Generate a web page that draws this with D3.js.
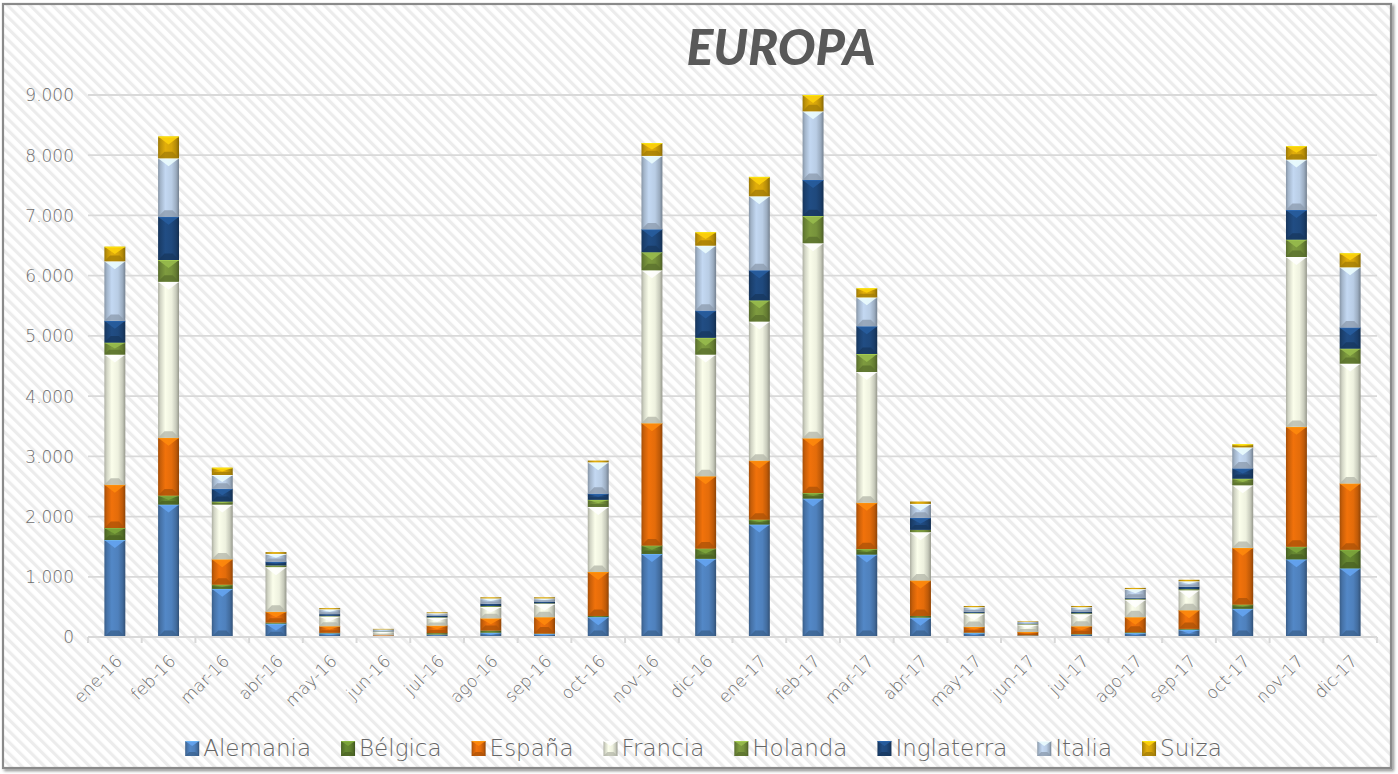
<!DOCTYPE html>
<html><head><meta charset="utf-8">
<script src="https://cdn.jsdelivr.net/npm/d3@7"></script>
<style>html,body{margin:0;padding:0;background:#fff;overflow:hidden}</style>
</head><body>
<svg id="chart" width="1398" height="774"></svg>
<script>
// ---------- DATA ----------
const months = ["ene-16","feb-16","mar-16","abr-16","may-16","jun-16","jul-16","ago-16","sep-16","oct-16","nov-16","dic-16",
                "ene-17","feb-17","mar-17","abr-17","may-17","jun-17","jul-17","ago-17","sep-17","oct-17","nov-17","dic-17"];
const seriesNames = ["Alemania","Bélgica","España","Francia","Holanda","Inglaterra","Italia","Suiza"];
const alemania   = [1610,2200, 800,220, 60,10, 40, 70, 50, 330,1380,1300,1870,2300,1370,320, 65, 25, 40, 65,120, 470,1290,1140];
const belgica    = [ 200, 150,  70, 20, 10, 5, 25, 40, 10,  20, 140, 170,  80,  90,  90, 30, 10,  5, 10, 15, 15,  70, 210, 310];
const espana     = [ 720, 960, 420,180,110,15,125,200,270, 730,2030,1200, 980, 910, 770,590, 95, 55,130,250,310, 940,1990,1100];
const francia    = [2160,2590, 910,740,160,60,130,190,220,1080,2540,2020,2310,3240,2170,800,220,120,200,290,330,1040,2820,1990];
const holanda    = [ 200, 360,  50, 30, 10, 5, 10, 15, 10, 120, 300, 280, 350, 450, 300, 40, 10, 10, 15, 15, 20, 110, 290, 250];
const inglaterra = [ 360, 720, 210, 60, 30, 5, 20, 40, 30, 100, 380, 450, 500, 600, 460,200, 20, 10, 20, 20, 40, 170, 490, 350];
const italia     = [ 990, 970, 230,130, 80,25, 45, 85, 50, 520,1220,1080,1230,1140, 480,230, 75, 25, 80,140, 90, 350, 840,1000];
const suiza      = [ 240, 360, 120, 30, 20,10, 15, 20, 20,  30, 210, 220, 320, 270, 150, 40, 20, 10, 20, 20, 25,  50, 220, 230];
const yTickValues = [0,1000,2000,3000,4000,5000,6000,7000,8000,9000];
const titleText = "EUROPA";

const seriesValues = [alemania, belgica, espana, francia, holanda, inglaterra, italia, suiza];
const seriesColors = ["#4F81BD","#62822F","#E46C0A","#EEF1DF","#77933C","#1F497D","#B9CDE5","#D6A50A"];

// table for stacking
const table = months.map((m,i)=>{
  const row = {month:m};
  seriesNames.forEach((s,j)=>row[s]=seriesValues[j][i]);
  return row;
});

// ---------- LAYOUT ----------
const W = 1398, H = 774;
const plot = {left:88, right:1377, top:95, bottom:637};
const labelFont = "'DejaVu Sans', Lato, sans-serif";
const svg = d3.select("#chart");
const defs = svg.append("defs");

// striped background pattern
const pat = defs.append("pattern").attr("id","stripes").attr("patternUnits","userSpaceOnUse")
  .attr("width",8).attr("height",8).attr("patternTransform","rotate(-45)");
pat.append("rect").attr("width",8).attr("height",8).attr("fill","#ffffff");
pat.append("rect").attr("x",0).attr("width",3.2).attr("height",8).attr("fill","#ececec");

// border shadow
const shadow = defs.append("filter").attr("id","shadow").attr("x","-2%").attr("y","-2%").attr("width","104%").attr("height","104%");
shadow.append("feGaussianBlur").attr("in","SourceAlpha").attr("stdDeviation",1.5);
shadow.append("feOffset").attr("dx",2).attr("dy",2).attr("result","ob");
shadow.append("feComponentTransfer").append("feFuncA").attr("type","linear").attr("slope",0.45);
const fm = shadow.append("feMerge"); fm.append("feMergeNode"); fm.append("feMergeNode").attr("in","SourceGraphic");

svg.append("rect").attr("x",0).attr("y",0).attr("width",W).attr("height",H).attr("fill","#ffffff");
svg.append("rect").attr("x",3).attr("y",4).attr("width",1388).attr("height",764)
  .attr("fill","url(#stripes)").attr("stroke","#8a8a8a").attr("stroke-width",2.2).attr("filter","url(#shadow)");

// gradients per series (horizontal bevel shading)
seriesColors.forEach((c,i)=>{
  const base = d3.color(c);
  const g = defs.append("linearGradient").attr("id","grad"+i).attr("x1","0").attr("x2","1").attr("y1","0").attr("y2","0");
  g.append("stop").attr("offset","0%").attr("stop-color",base.darker(0.9));
  g.append("stop").attr("offset","12%").attr("stop-color",base.darker(0.35));
  g.append("stop").attr("offset","35%").attr("stop-color",base.brighter(0.15));
  g.append("stop").attr("offset","65%").attr("stop-color",base);
  g.append("stop").attr("offset","86%").attr("stop-color",base.darker(0.5));
  g.append("stop").attr("offset","100%").attr("stop-color",base.darker(1.3));
});

// ---------- SCALES ----------
const x = d3.scaleBand().domain(months).range([plot.left, plot.right]).paddingInner(0.61).paddingOuter(0.305);
const y = d3.scaleLinear().domain([0, 9000]).range([plot.bottom, plot.top]);
const fmtLocale = d3.formatLocale({decimal:",", thousands:".", grouping:[3], currency:["","€"]});
const fmt = fmtLocale.format(",d");

// gridlines
svg.append("g").selectAll("line").data(yTickValues.filter(v=>v>0)).join("line")
  .attr("x1",plot.left).attr("x2",plot.right).attr("y1",d=>y(d)).attr("y2",d=>y(d))
  .attr("stroke","#d9d9d9").attr("stroke-width",1.8);

// y axis labels
const yAxis = d3.axisLeft(y).tickValues(yTickValues).tickFormat(fmt).tickSize(0).tickPadding(0);
const yg = svg.append("g").attr("transform",`translate(${plot.left-14},0)`).call(yAxis);
yg.select(".domain").remove();
yg.selectAll("text").attr("font-family",labelFont).attr("font-weight",200).attr("font-size",17)
  .attr("fill","#6e6e6e").attr("dy","0.35em");

// ---------- BARS ----------
const stack = d3.stack().keys(seriesNames);
const stacked = stack(table);

function bevelSegment(g, x0, y0, w, h, color, gi, bmax){
  if (h <= 0) return;
  g.append("rect").attr("x",x0).attr("y",y0).attr("width",w).attr("height",h).attr("fill",`url(#grad${gi})`);
  if (h < 2.5) return;
  const b = Math.min(bmax, h/2, w/2);
  const base = d3.color(color);
  g.append("polygon").attr("points",[[x0,y0],[x0+w,y0],[x0+w/2,y0+b]].map(p=>p.join(",")).join(" "))
    .attr("fill",base.brighter(0.7)).attr("opacity",0.85);
  const bb = b*0.8;
  g.append("polygon").attr("points",[[x0,y0+h],[x0+w,y0+h],[x0+w-bb,y0+h-bb],[x0+bb,y0+h-bb]].map(p=>p.join(",")).join(" "))
    .attr("fill",base.darker(0.8)).attr("opacity",0.75);
  g.append("line").attr("x1",x0).attr("x2",x0+w).attr("y1",y0+0.4).attr("y2",y0+0.4)
    .attr("stroke",base.brighter(1.2)).attr("stroke-width",0.8).attr("opacity",0.7);
}

const barsG = svg.append("g");
stacked.forEach((layer,si)=>{
  layer.forEach(d=>{
    const x0 = x(d.data.month), w = x.bandwidth();
    const y0 = y(d[1]), h = y(d[0]) - y(d[1]);
    bevelSegment(barsG, x0, y0, w, h, seriesColors[si], si, 8);
  });
});

// x axis line and ticks
svg.append("line").attr("x1",plot.left).attr("x2",plot.right).attr("y1",plot.bottom).attr("y2",plot.bottom)
  .attr("stroke","#d9d9d9").attr("stroke-width",2);
const tickPositions = months.map(m=>x(m) - x.step()*x.paddingInner()/2).concat([plot.right]);
svg.append("g").selectAll("line").data(tickPositions).join("line")
  .attr("x1",d=>d).attr("x2",d=>d).attr("y1",plot.bottom).attr("y2",plot.bottom+6)
  .attr("stroke","#d9d9d9").attr("stroke-width",2);

// x labels
svg.append("g").selectAll("text").data(months).join("text")
  .attr("transform",d=>`translate(${x(d)+x.bandwidth()/2+4},${plot.bottom+21}) rotate(-45)`)
  .attr("text-anchor","end").attr("dy","0.35em")
  .attr("font-family",labelFont).attr("font-weight",200).attr("font-size",17).attr("fill","#6e6e6e")
  .text(d=>d);

// ---------- TITLE ----------
svg.append("text").attr("x",781).attr("y",65).attr("text-anchor","middle")
  .attr("font-family","Lato, 'Open Sans', sans-serif").attr("font-weight",900).attr("font-style","italic")
  .attr("font-size",50).attr("fill","#595959").text(titleText);

// ---------- LEGEND ----------
const legend = svg.append("g");
let cursor = 0;
seriesNames.forEach((s,i)=>{
  const gItem = legend.append("g");
  bevelSegment(gItem, 0, -15, 14, 15, seriesColors[i], i, 5);
  const t = gItem.append("text").attr("x",18).attr("y",0)
    .attr("font-family",labelFont).attr("font-weight",200).attr("font-size",23).attr("fill","#666666").text(s);
  const tw = t.node().getComputedTextLength();
  gItem.attr("transform",`translate(${cursor},0)`);
  cursor += 18 + tw + 30;
});
const totalW = cursor - 30;
legend.attr("transform",`translate(${703.5 - totalW/2},756)`);
</script>
</body></html>
